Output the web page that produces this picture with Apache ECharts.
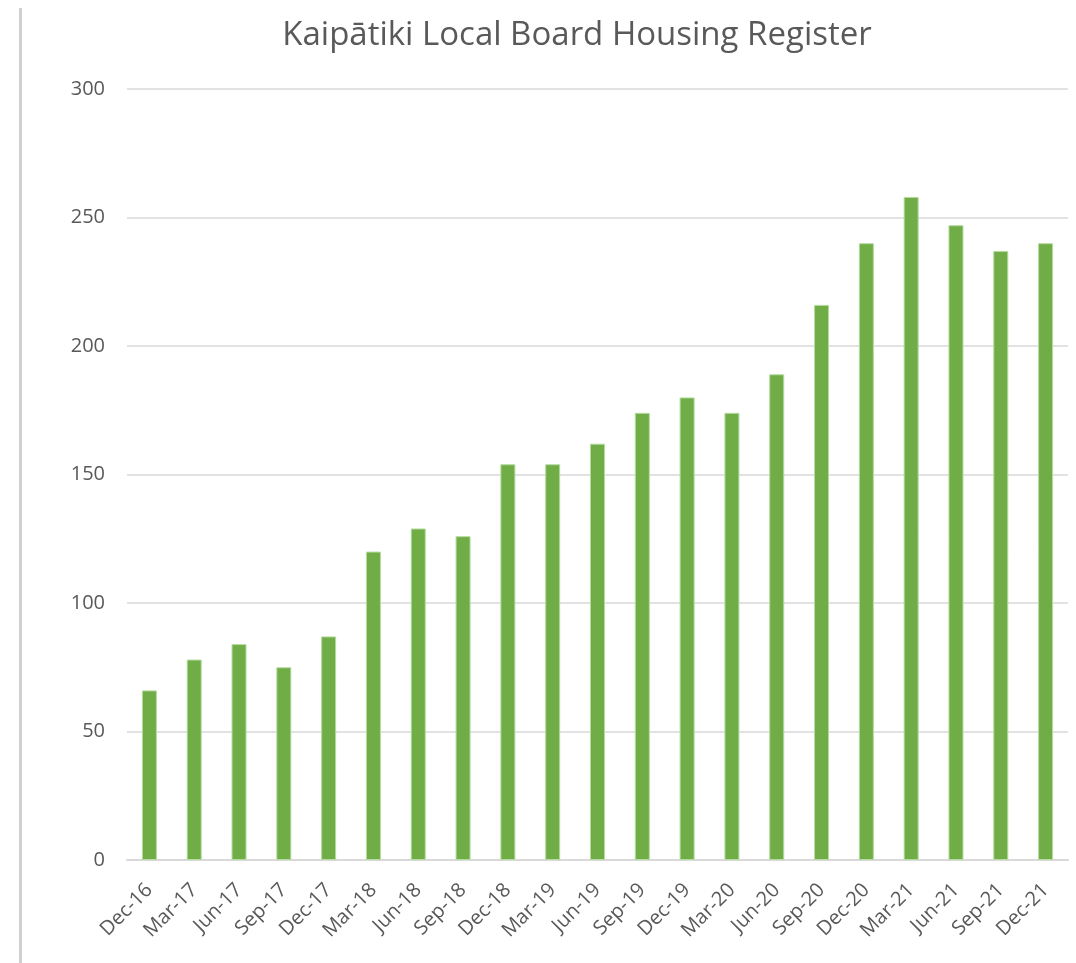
<!DOCTYPE html>
<html>
<head>
<meta charset="utf-8">
<script src="https://cdn.jsdelivr.net/npm/echarts@6/dist/echarts.min.js"></script>
<style>
  html, body { margin: 0; padding: 0; background: #fff; }
  #chart { width: 1076px; height: 963px; }
</style>
</head>
<body>
<div id="chart"></div>
<script>
// 季度标签
var quarters = ['Dec-16', 'Mar-17', 'Jun-17', 'Sep-17', 'Dec-17', 'Mar-18', 'Jun-18', 'Sep-18',
    'Dec-18', 'Mar-19', 'Jun-19', 'Sep-19', 'Dec-19', 'Mar-20', 'Jun-20', 'Sep-20',
    'Dec-20', 'Mar-21', 'Jun-21', 'Sep-21', 'Dec-21'];
// 登记人数
var registerCount = [66, 78, 84, 75, 87, 120, 129, 126, 154, 154, 162, 174, 180, 174, 189, 216,
    240, 258, 247, 237, 240];
var yTicks = [0, 50, 100, 150, 200, 250, 300];

var myChart = echarts.init(document.getElementById('chart'));
var fontFamily = '"Open Sans", Lato, sans-serif';

var option = {
    animation: false,
    title: {
        text: 'Kaipātiki Local Board Housing Register',
        left: 572,
        textAlign: 'center',
        top: 14,
        textStyle: {
            color: '#595959',
            fontSize: 33,
            fontWeight: 'normal',
            fontFamily: fontFamily
        }
    },
    graphic: [
        {   // 左侧截图边线
            type: 'rect',
            shape: { x: 19, y: 8, width: 3, height: 955 },
            style: { fill: '#d0d0d0' },
            silent: true
        }
    ],
    grid: {
        top: 89,
        left: 127,
        right: 8,
        bottom: 103
    },
    xAxis: {
        type: 'category',
        data: quarters,
        axisTick: { show: false },
        axisLine: { lineStyle: { color: '#d9d9d9', width: 2 } },
        axisLabel: {
            interval: 0,
            rotate: 45,
            color: '#595959',
            fontSize: 20,
            fontFamily: fontFamily,
            margin: 27
        }
    },
    yAxis: {
        type: 'value',
        min: yTicks[0],
        max: yTicks[yTicks.length - 1],
        interval: 50,
        axisLine: { show: false },
        axisTick: { show: false },
        axisLabel: {
            color: '#595959',
            fontSize: 20,
            fontFamily: fontFamily,
            margin: 22
        },
        splitLine: { lineStyle: { color: '#d9d9d9', width: 1.5 } }
    },
    series: [
        {
            name: 'Housing Register',
            type: 'bar',
            data: registerCount,
            barWidth: 15,
            z: 3,
            itemStyle: {
                color: '#70ad47',
                borderColor: '#b4dca0',
                borderWidth: 1
            }
        }
    ]
};

myChart.setOption(option);
</script>
</body>
</html>
